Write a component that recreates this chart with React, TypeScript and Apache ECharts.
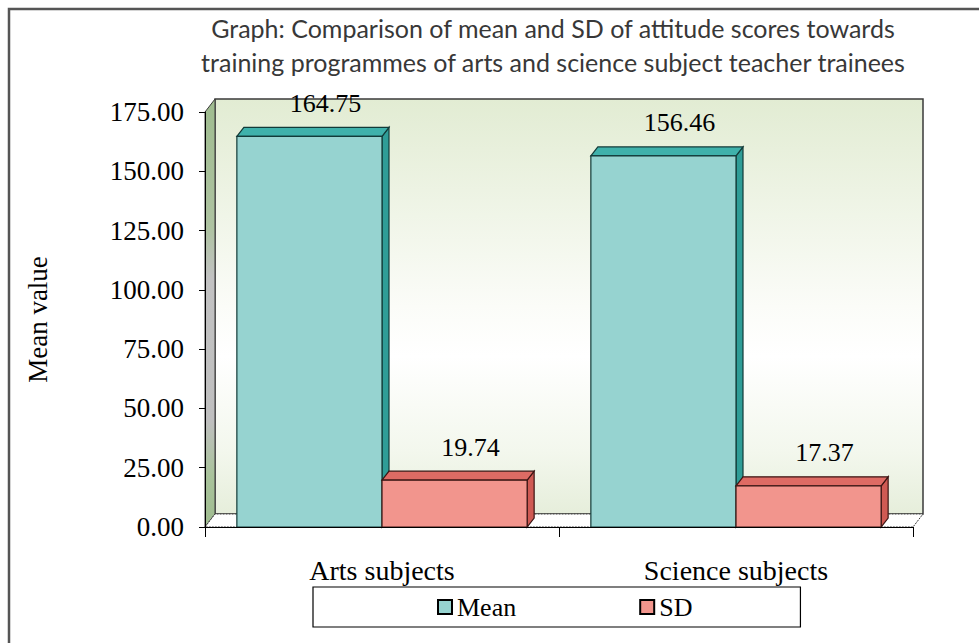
import React, { useEffect, useRef } from 'react';
import * as echarts from 'echarts';

const categories = ['Arts subjects', 'Science subjects'];
const meanValues = [164.75, 156.46];
const sdValues = [19.74, 17.37];
const seriesNames = ['Mean', 'SD'];
const yMin = 0;
const yMax = 175;
const yInterval = 25;
const titleText =
  'Graph: Comparison of mean and SD of attitude scores towards\ntraining programmes of arts and science subject teacher trainees';
const yAxisName = 'Mean value';

const SERIF = '"Liberation Serif", "Times New Roman", serif';
const DX = 7;
const DY = 9;
const WDX = 10;
const WDY = 13;

const meanColors = { front: '#96d3d0', top: '#3fb1ab', side: '#2f9d97', edge: '#123a38' };
const sdColors = { front: '#f2958d', top: '#de6b64', side: '#cf5a53', edge: '#3a1412' };

function makeBarRenderer(slot: number, colors: any) {
  return (params: any, api: any) => {
    const cat = api.value(0);
    const val = api.value(1);
    const base = api.coord([cat, 0]);
    const top = api.coord([cat, val]);
    const band = api.size([1, 0])[0];
    const w = band * 0.41;
    const x0 = base[0] - w + slot * w;
    const yT = top[1];
    const yB = base[1];
    return {
      type: 'group',
      children: [
        {
          type: 'polygon',
          shape: { points: [[x0 + w, yT], [x0 + w + DX, yT - DY], [x0 + w + DX, yB - DY], [x0 + w, yB]] },
          style: { fill: colors.side, stroke: colors.edge, lineWidth: 1.2 },
        },
        {
          type: 'polygon',
          shape: { points: [[x0, yT], [x0 + DX, yT - DY], [x0 + w + DX, yT - DY], [x0 + w, yT]] },
          style: { fill: colors.top, stroke: colors.edge, lineWidth: 1.2 },
        },
        {
          type: 'rect',
          shape: { x: x0, y: yT, width: w, height: yB - yT },
          style: { fill: colors.front, stroke: colors.edge, lineWidth: 1.2 },
        },
        {
          type: 'text',
          x: x0 + w / 2 + 16,
          y: yT - 33,
          style: {
            text: Number(val).toFixed(2),
            align: 'center',
            verticalAlign: 'middle',
            fontSize: 26,
            fontFamily: SERIF,
            fill: '#000',
          },
        },
      ],
    };
  };
}

function renderDecor(params: any) {
  const cs = params.coordSys;
  const x = cs.x;
  const y = cs.y;
  const w = cs.width;
  const h = cs.height;
  const wallFill = new echarts.graphic.LinearGradient(0, 0, 0, 1, [
    { offset: 0, color: '#e2ecd3' },
    { offset: 0.5, color: '#fbfcf8' },
    { offset: 0.62, color: '#ffffff' },
    { offset: 0.85, color: '#f3f7ed' },
    { offset: 1, color: '#e6eedb' },
  ]);
  const sideFill = new echarts.graphic.LinearGradient(0, 0, 0, 1, [
    { offset: 0, color: '#9fbc8f' },
    { offset: 0.3, color: '#aec3a1' },
    { offset: 0.42, color: '#c2c2c2' },
    { offset: 0.75, color: '#bfbfbf' },
    { offset: 0.88, color: '#a9c39b' },
    { offset: 1, color: '#9fbc8f' },
  ]);
  return {
    type: 'group',
    children: [
      {
        type: 'rect',
        shape: { x: x + WDX, y: y - WDY, width: w, height: h },
        style: { fill: wallFill, stroke: '#3a3a3a', lineWidth: 1.5 },
      },
      {
        type: 'polygon',
        shape: { points: [[x, y], [x + WDX, y - WDY], [x + WDX, y + h - WDY], [x, y + h]] },
        style: { fill: sideFill, stroke: '#3a3a3a', lineWidth: 1 },
      },
      {
        type: 'polygon',
        shape: { points: [[x, y + h], [x + WDX, y + h - WDY], [x + w + WDX, y + h - WDY], [x + w, y + h]] },
        style: { fill: '#ffffff', stroke: '#3a3a3a', lineWidth: 1, lineDash: [2, 1] },
      },
    ],
  };
}

export default function App() {
  const ref = useRef<HTMLDivElement>(null);
  useEffect(() => {
    if (!ref.current) return;
    const chart = echarts.init(ref.current, null, { renderer: 'svg' });
    chart.setOption({
      animation: false,
      backgroundColor: '#ffffff',
      title: {
        text: titleText,
        left: 553,
        top: 11,
        padding: 0,
        textAlign: 'center',
        textStyle: {
          fontFamily: 'Lato, "Noto Sans", sans-serif',
          fontSize: 25,
          fontWeight: 'normal',
          lineHeight: 34,
          color: '#383838',
        },
      },
      graphic: [
        {
          type: 'rect',
          silent: true,
          z: -10,
          shape: { x: 9, y: 9, width: 1200, height: 1200 },
          style: { fill: 'none', stroke: '#555555', lineWidth: 2.5 },
        },
      ],
      legend: {
        data: seriesNames,
        left: 313,
        top: 587,
        orient: 'horizontal',
        icon: 'rect',
        itemWidth: 14,
        itemHeight: 14,
        itemGap: 123,
        itemStyle: { borderColor: '#000', borderWidth: 2 },
        textStyle: { fontFamily: SERIF, fontSize: 26, color: '#000' },
        borderColor: '#000',
        borderWidth: 1.2,
        padding: [7, 108, 7, 124],
        backgroundColor: '#ffffff',
      },
      grid: { left: 205, right: 66, top: 112, bottom: 116, containLabel: false },
      xAxis: {
        type: 'category',
        data: categories,
        z: 10,
        axisLine: { show: true, lineStyle: { color: '#000', width: 1 } },
        axisTick: { show: true, length: 10, lineStyle: { color: '#000' } },
        axisLabel: { margin: 29, fontFamily: SERIF, fontSize: 28, color: '#000' },
        splitLine: { show: false },
      },
      yAxis: {
        type: 'value',
        min: yMin,
        max: yMax,
        interval: yInterval,
        z: 10,
        name: yAxisName,
        nameLocation: 'middle',
        nameRotate: 90,
        nameGap: 154,
        nameTextStyle: { fontFamily: SERIF, fontSize: 27, color: '#000' },
        axisLine: { show: true, lineStyle: { color: '#000', width: 1 } },
        axisTick: { show: true, length: 6, lineStyle: { color: '#000' } },
        axisLabel: {
          margin: 21,
          fontFamily: SERIF,
          fontSize: 27,
          color: '#000',
          formatter: (v: number) => v.toFixed(2),
        },
        splitLine: { show: false },
      },
      series: [
        {
          name: 'decor',
          type: 'custom',
          silent: true,
          clip: false,
          z: 1,
          data: [[0, 0]],
          renderItem: renderDecor,
        },
        {
          name: seriesNames[0],
          type: 'custom',
          clip: false,
          z: 3,
          itemStyle: { color: meanColors.front },
          encode: { x: 0, y: 1 },
          data: meanValues.map((v, i) => [i, v]),
          renderItem: makeBarRenderer(0, meanColors),
        },
        {
          name: seriesNames[1],
          type: 'custom',
          clip: false,
          z: 4,
          itemStyle: { color: sdColors.front },
          encode: { x: 0, y: 1 },
          data: sdValues.map((v, i) => [i, v]),
          renderItem: makeBarRenderer(1, sdColors),
        },
      ],
    });
    return () => chart.dispose();
  }, []);
  return (
    <div
      ref={ref}
      style={{ position: 'fixed', left: 0, top: 0, width: 979, height: 643 }}
    />
  );
}
